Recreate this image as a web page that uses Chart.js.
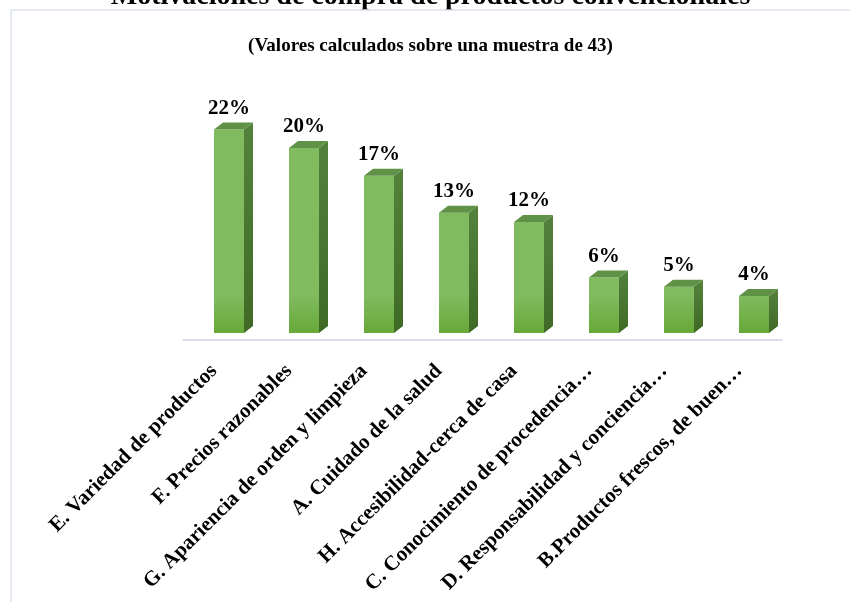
<!DOCTYPE html>
<html>
<head>
<meta charset="utf-8">
<script src="https://cdn.jsdelivr.net/npm/chart.js@4/dist/chart.umd.min.js"></script>
<style>
  html, body { margin: 0; padding: 0; background: #fff; }
  #wrap { width: 850px; height: 602px; }
</style>
</head>
<body>
<div id="wrap"><canvas id="grafico"></canvas></div>
<script>
// Motivaciones de compra (%), muestra de 43
const categorias = [
    'E. Variedad de productos',
    'F. Precios razonables',
    'G. Apariencia de orden y limpieza',
    'A. Cuidado de la salud',
    'H. Accesibilidad-cerca de casa',
    'C. Conocimiento de procedencia…',
    'D. Responsabilidad y conciencia…',
    'B.Productos frescos, de buen…'
];
const porcentajes = [22, 20, 17, 13, 12, 6, 5, 4];
const titulo = 'Motivaciones de compra de productos convencionales';
const subtitulo = '(Valores calculados sobre una muestra de 43)';

const SERIF = "'Liberation Serif', 'Times New Roman', serif";
const PROF_X = 9;   // profundidad del efecto 3D
const PROF_Y = 7;

// Dibuja caras laterales/superiores, etiquetas y el marco
const barras3d = {
    id: 'barras3d',
    beforeDatasetsDraw(chart) {
        const ctx = chart.ctx;
        const area = chart.chartArea;
        const meta = chart.getDatasetMeta(0);

        // marco del gráfico
        ctx.save();
        ctx.strokeStyle = '#dde3ec';
        ctx.lineWidth = 1.5;
        ctx.beginPath();
        ctx.moveTo(11, 602);
        ctx.lineTo(11, 10);
        ctx.lineTo(850, 10);
        ctx.stroke();

        // línea del piso
        const base = meta.data.length ? meta.data[0].base : area.bottom;
        ctx.strokeStyle = '#d9dee6';
        ctx.lineWidth = 2;
        ctx.beginPath();
        ctx.moveTo(area.left - PROF_X, base + PROF_Y);
        ctx.lineTo(area.right - PROF_X, base + PROF_Y);
        ctx.stroke();
        ctx.restore();

        // degradado de la cara frontal
        meta.data.forEach(bar => {
            const g = ctx.createLinearGradient(0, bar.y, 0, bar.base);
            g.addColorStop(0, '#80bb60');
            g.addColorStop(1, '#67a837');
            bar.options.backgroundColor = g;
        });
    },
    afterDatasetsDraw(chart) {
        const ctx = chart.ctx;
        const meta = chart.getDatasetMeta(0);
        ctx.save();
        meta.data.forEach((bar, i) => {
            const l = bar.x - bar.width / 2;
            const r = bar.x + bar.width / 2;
            const t = bar.y;
            const b = bar.base;

            // cara lateral
            const gs = ctx.createLinearGradient(0, t - PROF_Y, 0, b);
            gs.addColorStop(0, '#54823c');
            gs.addColorStop(1, '#3e6a25');
            ctx.fillStyle = gs;
            ctx.beginPath();
            ctx.moveTo(r, t);
            ctx.lineTo(r + PROF_X, t - PROF_Y);
            ctx.lineTo(r + PROF_X, b - PROF_Y);
            ctx.lineTo(r, b);
            ctx.closePath();
            ctx.fill();

            // cara superior
            ctx.fillStyle = '#5f9146';
            ctx.beginPath();
            ctx.moveTo(l, t);
            ctx.lineTo(l + PROF_X, t - PROF_Y);
            ctx.lineTo(r + PROF_X, t - PROF_Y);
            ctx.lineTo(r, t);
            ctx.closePath();
            ctx.fill();

            // etiqueta de valor
            ctx.fillStyle = '#000';
            ctx.font = 'bold 21px ' + SERIF;
            ctx.textAlign = 'center';
            ctx.textBaseline = 'alphabetic';
            ctx.fillText(porcentajes[i] + '%', bar.x, t - PROF_Y - 8.5);
        });
        ctx.restore();
    }
};

const ctx = document.getElementById('grafico');
new Chart(ctx, {
    type: 'bar',
    data: {
        labels: categorias,
        datasets: [{
            data: porcentajes,
            backgroundColor: '#74b24a',
            borderWidth: 0,
            categoryPercentage: 1,
            barPercentage: 0.4
        }]
    },
    options: {
        responsive: true,
        maintainAspectRatio: false,
        animation: false,
        layout: { padding: { left: 11, right: 0, top: 0, bottom: 0 } },
        plugins: {
            legend: { display: false },
            tooltip: { enabled: false },
            title: {
                display: true,
                text: titulo,
                color: '#000',
                font: { family: SERIF, size: 28, weight: 'bold' },
                padding: { top: -20, bottom: 0 }
            },
            subtitle: {
                display: true,
                text: subtitulo,
                color: '#000',
                font: { family: SERIF, size: 19, weight: 'bold' },
                padding: { top: 21.5, bottom: 16 }
            }
        },
        scales: {
            x: {
                grid: { display: false },
                border: { display: false },
                ticks: {
                    color: '#000',
                    font: { family: SERIF, size: 21, weight: 'bold' },
                    minRotation: 45,
                    maxRotation: 45,
                    autoSkip: false,
                    padding: 18,
                    labelOffset: -15
                },
                afterFit: s => { s.height = 269; }
            },
            y: {
                min: 0,
                max: 28,
                grid: { display: false },
                border: { display: false },
                ticks: { display: false },
                afterFit: s => { s.width = 180.5; }
            },
            derecha: {
                type: 'linear',
                position: 'right',
                display: true,
                grid: { display: false },
                border: { display: false },
                ticks: { display: false },
                afterFit: s => { s.width = 58.5; }
            }
        }
    },
    plugins: [barras3d]
});
</script>
</body>
</html>
